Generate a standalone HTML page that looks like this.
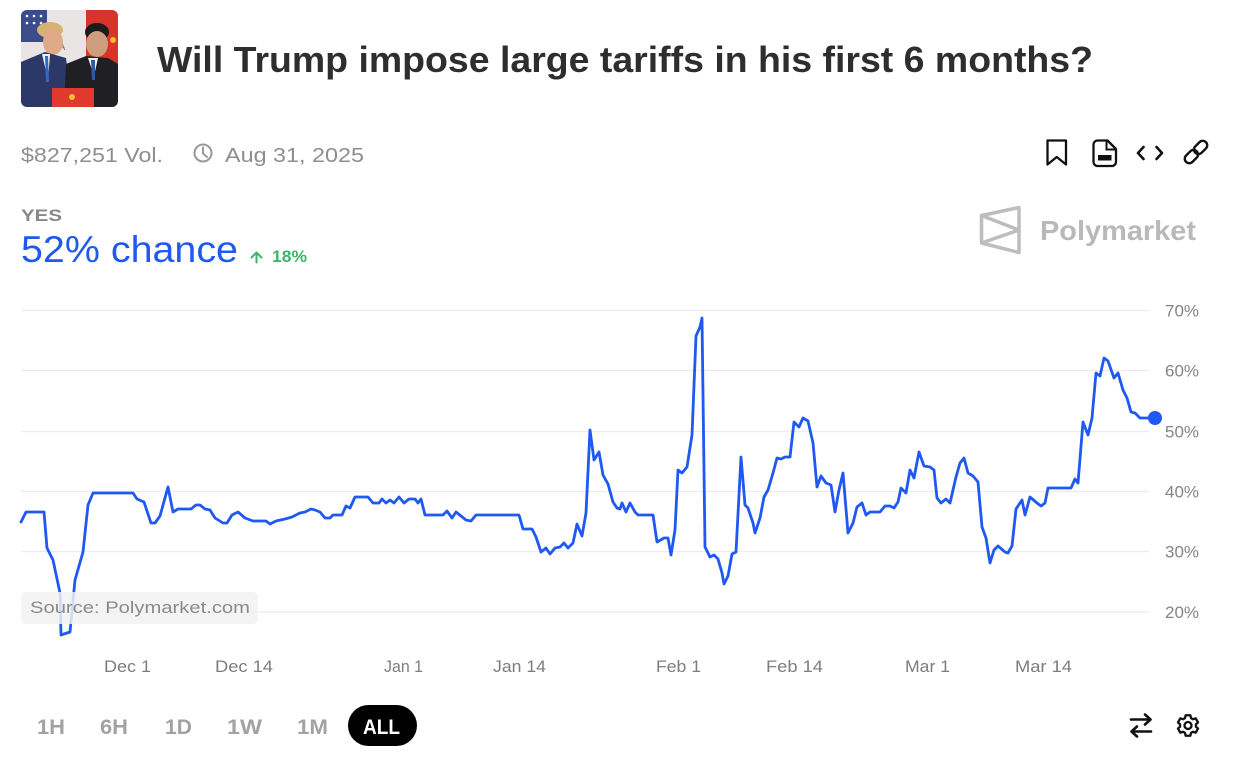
<!DOCTYPE html>
<html>
<head>
<meta charset="utf-8">
<style>
html,body{margin:0;padding:0;background:#fff;}
body{width:1246px;height:757px;overflow:hidden;}
svg{display:block;font-family:"Liberation Sans",sans-serif;}
</style>
</head>
<body>
<svg width="1246" height="757" viewBox="0 0 1246 757" xmlns="http://www.w3.org/2000/svg">
<defs>
<clipPath id="ph"><rect x="21" y="10" width="97" height="97" rx="6"/></clipPath>
</defs>
<rect width="1246" height="757" fill="#fff"/>

<!-- photo -->
<g clip-path="url(#ph)">
<rect x="21" y="10" width="97" height="97" fill="#e8e5e4"/>
<rect x="21" y="10" width="26" height="32" fill="#3a4c8c"/>
<circle cx="27" cy="16" r="1.3" fill="#fff"/><circle cx="34" cy="16" r="1.3" fill="#fff"/><circle cx="41" cy="16" r="1.3" fill="#fff"/>
<circle cx="27" cy="23" r="1.3" fill="#fff"/><circle cx="34" cy="23" r="1.3" fill="#fff"/><circle cx="41" cy="23" r="1.3" fill="#fff"/>
<rect x="86" y="10" width="32" height="55" fill="#d7342b"/>
<circle cx="113" cy="40" r="3" fill="#f2c230"/>
<text x="52" y="50" font-size="10" fill="#777">KA</text>
<ellipse cx="50" cy="30" rx="13" ry="8" fill="#d6b273"/>
<ellipse cx="53" cy="42" rx="10" ry="13" fill="#e0a988"/>
<path d="M21 62 L45 52 L66 58 L72 107 L21 107 Z" fill="#2b3868"/>
<path d="M42 54 L50 54 L48 80 Z" fill="#f1f1f1"/>
<path d="M45 56 L48 56 L49 82 L46 82 Z" fill="#2f6ac8"/>
<ellipse cx="97" cy="32" rx="12" ry="9" fill="#1b1b1b"/>
<ellipse cx="97" cy="44" rx="11" ry="13" fill="#cf9e7e"/>
<path d="M66 64 L86 56 L108 58 L118 64 L118 107 L64 107 Z" fill="#202024"/>
<path d="M88 58 L98 58 L94 76 Z" fill="#f0f0f0"/>
<path d="M91 60 L95 60 L95 80 L92 80 Z" fill="#2f5aa0"/>
<rect x="52" y="88" width="42" height="19" fill="#e03a2e"/>
<circle cx="72" cy="97" r="3" fill="#f2c230"/>
</g>

<!-- title -->
<text x="157" y="72" font-size="36" font-weight="bold" fill="#2e2e2e" textLength="936" lengthAdjust="spacingAndGlyphs">Will Trump impose large tariffs in his first 6 months?</text>

<!-- meta -->
<text x="21" y="162" font-size="20" fill="#8e8e8e" textLength="142" lengthAdjust="spacingAndGlyphs">$827,251 Vol.</text>
<circle cx="203" cy="153" r="8.5" fill="none" stroke="#999" stroke-width="2"/>
<path d="M203 147.5 V153.5 L207 157" fill="none" stroke="#999" stroke-width="2" stroke-linecap="round"/>
<text x="225" y="162" font-size="20" fill="#8e8e8e" textLength="139" lengthAdjust="spacingAndGlyphs">Aug 31, 2025</text>

<!-- header icons -->
<path d="M1047.5 140.5 H1066 V164.5 L1056.75 157 L1047.5 164.5 Z" fill="none" stroke="#111" stroke-width="2.3" stroke-linejoin="round"/>
<path d="M1097.5 140.5 H1107.5 L1116 149 V162 a4 4 0 0 1 -4 4 H1097.5 a4 4 0 0 1 -4 -4 V144.5 a4 4 0 0 1 4 -4 Z" fill="none" stroke="#111" stroke-width="2.3" stroke-linejoin="round"/>
<path d="M1106.5 141 V149.5 H1115" fill="none" stroke="#111" stroke-width="2"/>
<rect x="1098" y="155" width="13.5" height="5.5" fill="#111"/>
<polyline points="1143.5,147 1138,153 1143.5,159" fill="none" stroke="#111" stroke-width="2.6" stroke-linecap="round" stroke-linejoin="round"/>
<polyline points="1156.5,147 1162,153 1156.5,159" fill="none" stroke="#111" stroke-width="2.6" stroke-linecap="round" stroke-linejoin="round"/>
<g transform="rotate(-45 1196 152)" fill="none" stroke="#111" stroke-width="2.4">
<rect x="1182" y="147.5" width="15" height="9" rx="4.5"/>
<rect x="1195" y="147.5" width="15" height="9" rx="4.5"/>
</g>

<!-- YES / chance -->
<text x="21" y="221" font-size="17" font-weight="bold" fill="#888" textLength="41" lengthAdjust="spacingAndGlyphs">YES</text>
<text x="21" y="262" font-size="37" fill="#1f58f2" textLength="217" lengthAdjust="spacingAndGlyphs">52% chance</text>
<path d="M256.5 262.5 V252.5 M251.5 257.5 L256.5 252.5 L261.5 257.5" fill="none" stroke="#3cb46a" stroke-width="2" stroke-linecap="round" stroke-linejoin="round"/>
<text x="272" y="262" font-size="17" font-weight="bold" fill="#3cb46a" textLength="35" lengthAdjust="spacingAndGlyphs">18%</text>

<!-- polymarket logo -->
<g fill="none" stroke="#bdbdbd" stroke-width="3.5" stroke-linejoin="round">
<path d="M1019 207.5 V252.5 L981.5 243 V215.5 Z"/>
<path d="M981.5 215.5 L1019 230 L981.5 243"/>
</g>
<text x="1040" y="240" font-size="28" font-weight="bold" fill="#b9b9b9" textLength="156" lengthAdjust="spacingAndGlyphs">Polymarket</text>

<!-- grid -->
<g stroke="#ececec" stroke-width="1.2">
<line x1="21" y1="310.5" x2="1149" y2="310.5"/>
<line x1="21" y1="370.5" x2="1149" y2="370.5"/>
<line x1="21" y1="431.5" x2="1149" y2="431.5"/>
<line x1="21" y1="491.5" x2="1149" y2="491.5"/>
<line x1="21" y1="551.5" x2="1149" y2="551.5"/>
<line x1="21" y1="612" x2="1149" y2="612"/>
</g>
<g font-size="16.5" fill="#858585">
<text x="1165" y="316.5" textLength="34" lengthAdjust="spacingAndGlyphs">70%</text>
<text x="1165" y="376.5" textLength="34" lengthAdjust="spacingAndGlyphs">60%</text>
<text x="1165" y="437.5" textLength="34" lengthAdjust="spacingAndGlyphs">50%</text>
<text x="1165" y="497.5" textLength="34" lengthAdjust="spacingAndGlyphs">40%</text>
<text x="1165" y="557.5" textLength="34" lengthAdjust="spacingAndGlyphs">30%</text>
<text x="1165" y="618" textLength="34" lengthAdjust="spacingAndGlyphs">20%</text>
</g>

<!-- series -->
<polyline fill="none" stroke="#1f58f2" stroke-width="2.8" stroke-linejoin="round" stroke-linecap="round" points="21,522 26,512 44,512 47,548 53,560 60,593 61,635 70,632 75,580 83,552 88,505 93,493 133,493 137,499 144,502 151,523 155,523 160,516 168,487 173,512 178,509 191,509 196,505 200,505 205,509 210,510 215,518 223,523 227,523 232,515 238,512 245,518 253,521 266,521 270,524 276,521 285,519 292,517 300,513 305,512 311,509 315,510 320,512 325,518 330,518 333,515 342,515 346,506 350,508 355,497 368,497 373,503 379,503 382,499 386,503 390,500 394,503 399,497 404,503 409,499 415,499 418,503 421,499 425,515 443,515 447,511 452,518 456,512 461,516 466,520 471,521 476,515 519,515 523,529 532,529 536,537 541,552 546,548 550,554 555,548 560,547 564,543 568,548 573,543 577,524 582,536 586,513 590,430 594,460 599,452 603,475 608,484 613,502 617,508 620,509 622,503 626,512 630,503 635,512 638,515 653,515 657,542 664,538 668,538 671,555 675,530 678,470 682,473 687,467 692,435 696,336 700,327 702,318 705,547 710,557 714,555 718,559 722,573 724,584 728,576 732,554 736,552 741,457 745,505 748,508 753,523 755,533 760,518 764,497 768,490 773,473 777,458 781,459 785,457 790,457 794,422 799,427 803,418 808,421 813,443 817,487 821,476 826,483 831,485 835,512 839,490 843,473 848,533 853,523 857,507 862,503 866,515 870,512 880,512 885,506 890,506 894,508 898,502 901,488 906,493 910,470 914,478 919,452 924,466 930,467 934,470 937,498 941,503 946,499 950,503 956,477 960,463 964,458 968,473 973,476 978,482 982,527 986,538 990,563 994,550 998,546 1005,552 1008,553 1012,546 1016,509 1022,500 1025,515 1030,497 1037,503 1041,506 1045,503 1048,488 1071,488 1075,479 1078,483 1083,422 1088,435 1092,418 1096,373 1100,376 1104,358 1108,361 1114,378 1118,373 1123,390 1127,398 1131,412 1135,413 1140,418 1148,418"/>
<circle cx="1155" cy="418" r="7" fill="#1f58f2"/>

<!-- source box -->
<rect x="21" y="592" width="237" height="32" rx="5" fill="#f2f2f2" fill-opacity="0.85"/>
<text x="30" y="613" font-size="17" fill="#8a8a8a" textLength="220" lengthAdjust="spacingAndGlyphs">Source: Polymarket.com</text>

<!-- x labels -->
<g font-size="17" fill="#7d7d7d">
<text x="104" y="672" textLength="47" lengthAdjust="spacingAndGlyphs">Dec 1</text>
<text x="215" y="672" textLength="58" lengthAdjust="spacingAndGlyphs">Dec 14</text>
<text x="384" y="672" textLength="39" lengthAdjust="spacingAndGlyphs">Jan 1</text>
<text x="493" y="672" textLength="53" lengthAdjust="spacingAndGlyphs">Jan 14</text>
<text x="656" y="672" textLength="45" lengthAdjust="spacingAndGlyphs">Feb 1</text>
<text x="766" y="672" textLength="57" lengthAdjust="spacingAndGlyphs">Feb 14</text>
<text x="905" y="672" textLength="45" lengthAdjust="spacingAndGlyphs">Mar 1</text>
<text x="1015" y="672" textLength="57" lengthAdjust="spacingAndGlyphs">Mar 14</text>
</g>

<!-- range buttons -->
<g font-size="21" font-weight="bold" fill="#a2a2a2">
<text x="37" y="734" textLength="28" lengthAdjust="spacingAndGlyphs">1H</text>
<text x="100" y="734" textLength="28" lengthAdjust="spacingAndGlyphs">6H</text>
<text x="165" y="734" textLength="27" lengthAdjust="spacingAndGlyphs">1D</text>
<text x="227" y="734" textLength="35" lengthAdjust="spacingAndGlyphs">1W</text>
<text x="297" y="734" textLength="31" lengthAdjust="spacingAndGlyphs">1M</text>
</g>
<rect x="348" y="705" width="69" height="41" rx="20.5" fill="#000"/>
<text x="363" y="734" font-size="21" font-weight="bold" fill="#fff" textLength="37" lengthAdjust="spacingAndGlyphs">ALL</text>

<!-- bottom right icons -->
<g fill="none" stroke="#111" stroke-width="2.6" stroke-linecap="round" stroke-linejoin="round">
<path d="M1131 719.5 H1150 M1145 714.5 L1150.5 719.5 L1145 724.5"/>
<path d="M1151 731.5 H1132 M1137 726.5 L1131.5 731.5 L1137 736.5"/>
</g>
<polygon fill="none" stroke="#111" stroke-width="2.3" stroke-linejoin="round" points="1185.00,718.08 1185.64,715.27 1190.36,715.27 1191.00,718.08 1192.93,719.20 1195.68,718.34 1198.04,722.43 1195.92,724.39 1195.92,726.61 1198.04,728.57 1195.68,732.66 1192.93,731.80 1191.00,732.92 1190.36,735.73 1185.64,735.73 1185.00,732.92 1183.07,731.80 1180.32,732.66 1177.96,728.57 1180.08,726.61 1180.08,724.39 1177.96,722.43 1180.32,718.34 1183.07,719.20"/>
<circle cx="1188" cy="725.5" r="3.5" fill="none" stroke="#111" stroke-width="2.3"/>
</svg>
</body>
</html>
